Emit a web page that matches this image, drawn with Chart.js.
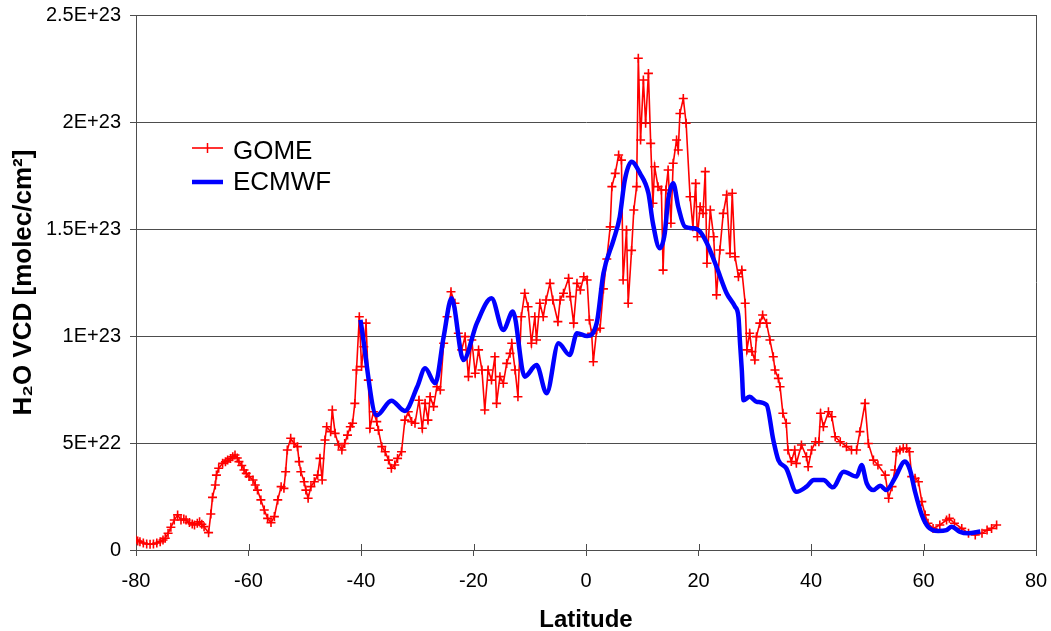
<!DOCTYPE html>
<html>
<head>
<meta charset="utf-8">
<title>H2O vertical column density vs latitude</title>
<script src="https://cdn.jsdelivr.net/npm/chart.js@4/dist/chart.umd.min.js"></script>
<style>
  html, body { margin: 0; padding: 0; background: #ffffff; }
  canvas { display: block; }
</style>
</head>
<body>
<canvas id="vcd" width="1051" height="631"></canvas>
<script>
// GOME retrieval: latitude (deg) and H2O vertical column (units of 1E+22 molec/cm²)
const gomeLatitude = [
  -80.0, -79.7, -79.3, -78.7, -78.1, -77.5, -76.9, -76.3, -75.7, -75.2,
  -74.8, -74.3, -73.8, -73.2, -72.6, -72.0, -71.5, -71.1, -70.5, -70.0,
  -69.6, -69.1, -68.7, -68.3, -67.9, -67.1, -66.7, -66.4, -65.9, -65.7,
  -65.3, -64.6, -64.1, -63.7, -63.2, -62.8, -62.4, -62.0, -61.7, -61.2,
  -60.8, -60.4, -59.9, -59.2, -58.8, -58.4, -57.8, -57.2, -56.6, -56.0,
  -55.4, -54.8, -54.2, -53.7, -53.4, -53.1, -52.5, -51.9, -51.3, -51.0,
  -50.7, -50.1, -49.8, -49.4, -48.9, -48.3, -47.7, -47.3, -46.9, -46.4,
  -46.1, -45.4, -45.1, -44.6, -44.0, -43.4, -42.9, -42.4, -41.9, -41.5,
  -41.1, -40.8, -40.3, -39.9, -39.5, -39.1, -38.7, -38.4, -37.8, -37.2,
  -36.9, -36.3, -35.7, -35.1, -34.6, -34.0, -33.5, -32.8, -32.2, -31.6,
  -31.0, -30.4, -29.7, -29.1, -28.6, -28.1, -27.7, -27.1, -26.5, -25.9,
  -25.3, -24.7, -24.0, -23.3, -22.7, -22.1, -21.5, -20.9, -20.3, -19.7,
  -19.1, -18.5, -18.0, -17.4, -16.8, -16.2, -15.9, -15.3, -14.7, -14.1,
  -13.5, -13.2, -12.6, -12.1, -11.5, -10.9, -10.3, -9.7, -9.1, -8.8,
  -8.2, -7.6, -7.1, -6.4, -5.9, -5.0, -4.6, -4.0, -3.1, -2.8,
  -2.2, -1.6, -1.0, -0.4, 0.2, 0.6, 1.0, 1.3, 1.9, 2.5,
  3.1, 3.7, 4.3, 4.6, 5.2, 5.8, 6.3, 6.6, 7.2, 7.5,
  8.1, 8.5, 9.0, 9.3, 9.7, 10.2, 10.6, 11.1, 11.5, 11.9,
  12.2, 12.8, 13.4, 13.7, 14.2, 14.6, 15.1, 15.5, 16.1, 16.4,
  16.7, 17.3, 17.8, 18.5, 19.0, 19.5, 19.8, 20.3, 20.8, 21.2,
  21.5, 22.1, 22.7, 23.2, 23.8, 24.4, 25.0, 25.6, 26.0, 26.5,
  27.1, 27.7, 28.3, 28.6, 29.1, 29.5, 30.0, 30.3, 30.9, 31.4,
  32.1, 32.7, 33.3, 33.6, 34.2, 34.5, 35.0, 35.6, 35.9, 36.5,
  37.1, 37.4, 38.3, 39.2, 39.5, 40.1, 40.8, 41.4, 41.7, 42.2,
  43.1, 43.7, 44.3, 45.2, 46.3, 47.2, 48.1, 48.7, 49.6, 50.2,
  51.1, 51.9, 53.2, 53.8, 54.4, 54.9, 55.2, 55.8, 56.4, 57.0,
  57.5, 57.9, 58.5, 59.1, 59.7, 60.3, 60.8, 61.7, 62.9, 64.1,
  64.6, 65.5, 66.8, 68.0, 69.2, 70.4, 71.3, 72.1, 73.0
];
const gomeVcd = [
  0.47, 0.42, 0.39, 0.33, 0.28, 0.27, 0.28, 0.33, 0.39, 0.47,
  0.55, 0.78, 1.06, 1.40, 1.64, 1.40, 1.45, 1.40, 1.28, 1.22,
  1.17, 1.25, 1.32, 1.20, 1.09, 0.81, 1.68, 2.46, 3.04, 3.50,
  3.82, 4.05, 4.12, 4.20, 4.28, 4.36, 4.44, 4.30, 4.13, 3.95,
  3.74, 3.58, 3.43, 3.27, 3.04, 2.80, 2.34, 1.87, 1.48, 1.28,
  1.56, 2.34, 2.96, 2.88, 3.66, 4.67, 5.22, 4.98, 4.83, 4.13,
  3.66, 3.19, 2.80, 2.42, 2.96, 3.19, 3.50, 4.28, 3.27, 5.14,
  5.76, 5.53, 6.54, 5.45, 4.91, 4.67, 4.98, 5.37, 5.76, 5.92,
  6.85, 8.41, 10.90, 8.57, 9.50, 10.60, 7.94, 5.69, 6.46, 6.00,
  5.60, 4.83, 4.59, 4.20, 3.82, 3.97, 4.28, 4.59, 6.07, 6.46,
  6.00, 5.92, 7.00, 5.69, 6.85, 6.07, 7.16, 6.70, 7.63, 7.48,
  9.66, 10.90, 12.07, 11.53, 10.13, 9.35, 9.97, 8.10, 9.81, 8.26,
  9.35, 8.41, 6.54, 8.41, 7.94, 9.03, 6.85, 8.10, 7.79, 8.72,
  9.19, 9.66, 8.41, 7.16, 10.90, 12.00, 11.37, 9.66, 10.90, 9.81,
  11.53, 10.90, 11.68, 12.46, 11.68, 10.67, 11.68, 12.00, 12.70, 11.84,
  10.60, 12.46, 12.15, 12.77, 12.62, 10.75, 10.13, 8.80, 10.28, 10.36,
  12.20, 13.60, 15.10, 16.98, 17.60, 18.46, 18.22, 12.62, 14.95, 11.53,
  14.00, 15.89, 16.98, 22.98, 19.16, 21.96, 19.94, 22.27, 19.00, 16.20,
  17.91, 16.98, 16.82, 13.08, 16.82, 17.76, 15.27, 18.07, 19.16, 18.69,
  20.40, 21.10, 19.94, 16.51, 15.10, 17.13, 14.64, 16.04, 15.73, 17.68,
  13.40, 15.89, 14.64, 11.92, 14.02, 15.73, 16.59, 13.86, 16.67, 13.70,
  12.77, 13.08, 11.53, 9.35, 10.13, 9.27, 8.88, 9.97, 10.60, 10.98,
  10.60, 9.81, 9.03, 8.41, 8.02, 7.63, 6.39, 5.92, 4.67, 4.13,
  4.67, 4.05, 4.91, 4.36, 3.89, 4.67, 5.06, 5.06, 6.39, 5.76,
  6.46, 6.23, 5.29, 5.06, 4.83, 4.67, 4.67, 5.53, 6.85, 4.98,
  4.20, 3.97, 3.50, 2.42, 2.96, 3.74, 4.59, 4.67, 4.75, 4.75,
  4.59, 3.43, 3.35, 3.19, 2.26, 1.64, 1.25, 1.01, 1.17, 1.40,
  1.48, 1.25, 1.01, 0.78, 0.70, 0.78, 0.93, 1.01, 1.17
];

// ECMWF model column, same units
const ecmwfLatitude = [
  -40.1, -37.2, -34.6, -32.2, -30.0, -28.6, -26.8, -25.3, -23.9, -21.8,
  -19.4, -16.8, -14.7, -13.0, -10.9, -8.8, -7.0, -4.9, -2.9, -1.6,
  0.2, 1.9, 3.1, 4.9, 6.0, 6.9, 8.1, 9.6, 11.1, 11.9,
  13.1, 14.0, 14.6, 15.5, 16.4, 17.6, 19.1, 20.3, 21.5, 23.2,
  25.0, 26.5, 27.1, 27.4, 27.7, 28.0, 29.1, 30.3, 32.1, 33.3,
  34.2, 35.6, 37.4, 39.2, 40.5, 42.2, 43.9, 45.8, 48.1, 49.0,
  49.9, 51.1, 52.3, 53.4, 54.9, 56.7, 57.6, 58.5, 59.7, 60.8,
  62.6, 64.1, 65.0, 66.4, 67.9, 70.1
];
const ecmwfVcd = [
  10.75, 6.30, 6.98, 6.50, 7.63, 8.49, 7.79, 9.97, 11.76, 8.88,
  10.60, 11.76, 10.28, 11.14, 8.10, 8.64, 7.32, 9.66, 9.11, 10.13,
  10.00, 10.60, 12.93, 14.49, 15.57, 17.29, 18.14, 17.60, 16.67, 15.27,
  14.10, 14.80, 16.36, 17.14, 16.04, 15.10, 15.03, 14.87, 14.33, 13.24,
  12.00, 11.37, 10.90, 9.60, 8.41, 7.00, 7.16, 6.93, 6.78, 5.14,
  4.20, 3.82, 2.72, 2.96, 3.27, 3.27, 2.93, 3.66, 3.43, 3.97,
  3.12, 2.80, 3.00, 2.80, 3.35, 4.13, 3.74, 2.72, 1.64, 1.09,
  0.89, 0.93, 1.09, 0.86, 0.78, 0.86
];

const VCD_UNIT = 1e22;
const seriesNames = ['GOME', 'ECMWF'];
const seriesColors = ['rgb(255,0,0)', 'rgb(0,0,255)'];
const latitudeTicks = [-80, -60, -40, -20, 0, 20, 40, 60, 80];
const vcdTickLabels = ['0', '5E+22', '1E+23', '1.5E+23', '2E+23', '2.5E+23'];

const toPoints = (xs, ys) => xs.map((x, i) => ({ x: x, y: ys[i] * VCD_UNIT }));

const AXIS_GREY = '#4d4d4d';
const TICK_FONT = { family: "'Liberation Sans', Arial, sans-serif", size: 20 };
const TITLE_FONT = { family: "'Liberation Sans', Arial, 'DejaVu Sans', sans-serif", size: 24, weight: 'bold' };
const Y_TITLE_FONT = { family: "'Liberation Sans', Arial, 'DejaVu Sans', sans-serif", size: 26, weight: 'bold' };

// right-hand frame line and the inner half of the x-axis tick marks
const framePlugin = {
  id: 'plotFrame',
  afterDraw(chart) {
    const { ctx, chartArea: a } = chart;
    const xs = chart.scales.x;
    ctx.save();
    ctx.strokeStyle = AXIS_GREY;
    ctx.lineWidth = 1;
    ctx.beginPath();
    ctx.moveTo(a.right + 0.5, a.top);
    ctx.lineTo(a.right + 0.5, a.bottom);
    xs.ticks.forEach(t => {
      const px = Math.round(xs.getPixelForValue(t.value)) + 0.5;
      ctx.moveTo(px, a.bottom - 6);
      ctx.lineTo(px, a.bottom);
    });
    ctx.stroke();
    ctx.restore();
  }
};

// legend box inside the plot, upper left
const insetLegend = {
  id: 'insetLegend',
  afterDatasetsDraw(chart) {
    const { ctx } = chart;
    const rows = [
      { ds: chart.data.datasets[0], y: 148, textY: 152 },
      { ds: chart.data.datasets[1], y: 182, textY: 183 }
    ];
    ctx.save();
    rows.forEach(r => {
      ctx.strokeStyle = r.ds.borderColor;
      ctx.lineWidth = r.ds.borderWidth;
      ctx.beginPath();
      ctx.moveTo(192, r.y);
      ctx.lineTo(223, r.y);
      ctx.stroke();
      if (r.ds.pointRadius > 0) {
        ctx.lineWidth = 1.5;
        ctx.beginPath();
        ctx.moveTo(207.5, r.y - 5);
        ctx.lineTo(207.5, r.y + 5);
        ctx.stroke();
      }
      ctx.fillStyle = '#000';
      ctx.font = "26px 'Liberation Sans', Arial, sans-serif";
      ctx.textBaseline = 'middle';
      ctx.textAlign = 'left';
      ctx.fillText(r.ds.label, 233, r.textY);
    });
    ctx.restore();
  }
};

new Chart(document.getElementById('vcd'), {
  type: 'line',
  data: {
    datasets: [
      {
        label: seriesNames[0],
        data: toPoints(gomeLatitude, gomeVcd),
        borderColor: seriesColors[0],
        backgroundColor: seriesColors[0],
        borderWidth: 1.6,
        pointStyle: 'cross',
        pointRadius: 4.5,
        pointBorderWidth: 1.6,
        pointBorderColor: seriesColors[0],
        tension: 0,
        fill: false,
        order: 1
      },
      {
        label: seriesNames[1],
        data: toPoints(ecmwfLatitude, ecmwfVcd),
        borderColor: seriesColors[1],
        backgroundColor: seriesColors[1],
        borderWidth: 4.5,
        pointRadius: 0,
        cubicInterpolationMode: 'monotone',
        fill: false,
        order: 0
      }
    ]
  },
  options: {
    responsive: false,
    animation: false,
    devicePixelRatio: 1,
    layout: { padding: { top: 15, right: 15, bottom: 0, left: 0 } },
    plugins: {
      legend: { display: false },
      tooltip: { enabled: false }
    },
    scales: {
      x: {
        type: 'linear',
        min: -80,
        max: 80,
        afterBuildTicks: s => { s.ticks = latitudeTicks.map(v => ({ value: v })); },
        afterFit: s => { s.height = 81; s.paddingLeft = 0; s.paddingRight = 0; },
        ticks: { color: '#000', font: TICK_FONT, padding: 13, maxRotation: 0 },
        grid: { drawOnChartArea: false, drawTicks: true, tickLength: 6, color: AXIS_GREY },
        border: { color: AXIS_GREY, width: 1 },
        title: { display: true, text: 'Latitude', color: '#000', font: TITLE_FONT, padding: { top: 0, bottom: -4 } }
      },
      y: {
        min: 0,
        max: 2.5e23,
        afterBuildTicks: s => { s.ticks = vcdTickLabels.map((_, i) => ({ value: i * 5 * VCD_UNIT })); },
        afterFit: s => { s.width = 136; s.paddingTop = 0; s.paddingBottom = 0; },
        ticks: {
          color: '#000',
          font: TICK_FONT,
          padding: 9,
          callback: (v, i) => vcdTickLabels[i]
        },
        grid: { color: AXIS_GREY, tickLength: 6, lineWidth: 1 },
        border: { color: AXIS_GREY, width: 1 },
        title: { display: true, text: 'H\u2082O VCD [molec/cm\u00B2]', color: '#000', font: Y_TITLE_FONT, align: 'center', padding: { top: 8, bottom: 0 } }
      }
    }
  },
  plugins: [framePlugin, insetLegend]
});
</script>
</body>
</html>
